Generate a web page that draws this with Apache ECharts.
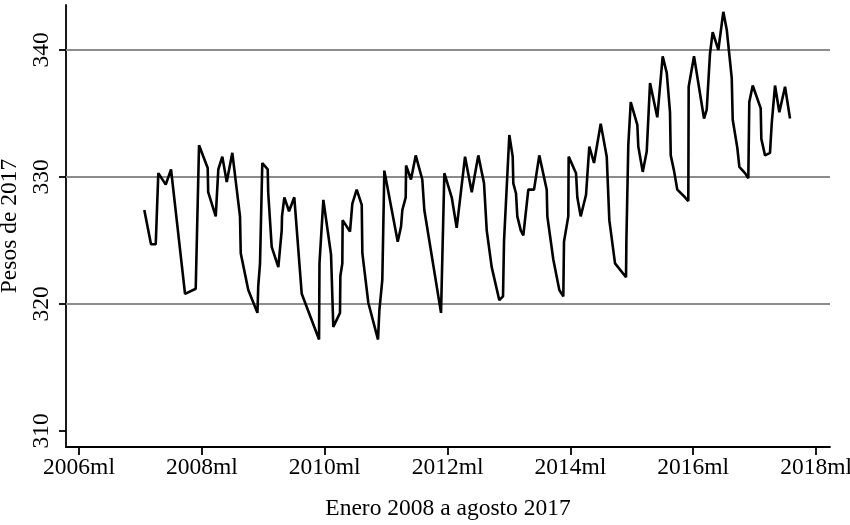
<!DOCTYPE html>
<html><head><meta charset="utf-8">
<script src="https://cdn.jsdelivr.net/npm/echarts@6/dist/echarts.min.js"></script>
<style>html,body{margin:0;padding:0;background:#fff}#c{width:850px;height:525px}</style>
</head><body><div id="c"></div>
<script>
const dates = [2007.063,2007.172,2007.249,2007.291,2007.412,2007.498,2007.726,2007.900,2007.954,
2008.095,2008.103,2008.226,2008.268,2008.333,2008.405,2008.496,2008.621,2008.633,2008.756,2008.905,2008.918,2008.947,2008.984,
2009.072,2009.080,2009.137,2009.245,2009.300,2009.305,2009.343,2009.419,2009.505,2009.626,2009.908,2009.915,2009.978,
2010.103,2010.140,2010.249,2010.255,2010.287,2010.292,2010.412,2010.450,2010.521,2010.603,2010.613,2010.710,2010.868,2010.890,2010.938,2010.971,
2011.189,2011.243,2011.264,2011.319,2011.325,2011.405,2011.482,2011.589,2011.622,2011.894,2011.948,
2012.068,2012.149,2012.285,2012.394,2012.501,2012.594,2012.638,2012.719,2012.843,2012.903,2012.920,
2013.006,2013.061,2013.071,2013.115,2013.136,2013.192,2013.234,2013.315,2013.408,2013.494,2013.615,2013.625,2013.722,2013.820,2013.885,2013.896,2013.966,2013.972,
2014.092,2014.113,2014.168,2014.255,2014.308,2014.385,2014.494,2014.592,2014.634,2014.727,2014.906,2014.912,2014.943,2014.983,
2015.090,2015.106,2015.178,2015.243,2015.297,2015.415,2015.503,2015.569,2015.622,2015.634,2015.687,2015.741,2015.866,2015.920,2015.926,
2016.013,2016.176,2016.220,2016.273,2016.317,2016.409,2016.490,2016.546,2016.627,2016.643,2016.718,2016.751,2016.843,2016.897,2016.913,2016.969,
2017.099,2017.109,2017.169,2017.250,2017.278,2017.332,2017.402,2017.495,2017.576];
const values = [327.4,324.7,324.7,330.3,329.4,330.6,320.8,321.2,332.5,
330.7,328.8,326.9,330.6,331.6,329.6,331.9,326.9,324.0,321.1,319.3,321.4,323.2,331.1,
330.6,328.8,324.5,322.9,325.8,326.9,328.4,327.3,328.4,320.8,317.2,323.2,328.2,
323.9,318.2,319.3,322.2,323.2,326.6,325.7,327.9,329.0,327.8,324.0,320.1,317.2,319.5,321.9,330.5,
324.9,326.1,327.4,328.4,330.9,329.8,331.7,329.8,327.4,319.3,330.3,
328.4,326.0,331.6,328.8,331.7,329.5,325.8,322.9,320.3,320.6,325.0,
333.3,331.6,329.5,328.7,326.9,325.8,325.4,329.0,329.0,331.7,329.0,326.9,323.5,321.1,320.6,324.9,326.9,331.6,
330.3,328.4,326.9,328.6,332.4,331.1,334.2,331.6,326.6,323.2,322.1,325.0,332.5,335.9,
334.1,332.4,330.4,332.0,337.4,334.7,339.5,338.2,335.1,331.7,330.5,329.0,328.4,328.1,337.1,
339.5,334.6,335.3,339.7,341.4,340.0,343.0,341.6,337.8,334.5,332.3,330.8,330.3,329.9,335.9,337.2,
335.4,333.0,331.7,331.9,334.2,337.2,335.1,337.1,334.6];
const xTicks = [2006, 2008, 2010, 2012, 2014, 2016, 2018];
const yTicks = [310, 320, 330, 340];
const gridValues = [320, 330, 340];
const xTitle = 'Enero 2008 a agosto 2017';
const yTitle = 'Pesos de 2017';

const font = 'Liberation Serif';
const fs = 23.5;
const chart = echarts.init(document.getElementById('c'));
chart.setOption({
  animation: false,
  backgroundColor: '#fff',
  grid: { left: 66, right: 20, top: 5, bottom: 78, containLabel: false, outerBoundsMode: 'none' },
  xAxis: {
    type: 'value', min: 2005.788, max: 2018.227,
    name: xTitle, nameLocation: 'middle', nameGap: 50,
    nameTextStyle: { fontFamily: font, fontSize: fs, color: '#000' },
    axisLine: { show: true, lineStyle: { color: '#000', width: 1.8 } },
    axisTick: { show: true, length: 8, customValues: xTicks, lineStyle: { color: '#000', width: 1.8 } },
    axisLabel: { customValues: xTicks, formatter: v => Math.round(v) + 'ml', fontFamily: font, fontSize: fs, color: '#000', margin: 9 },
    splitLine: { show: false }
  },
  yAxis: {
    type: 'value', min: 308.74, max: 343.54,
    name: yTitle, nameLocation: 'middle', nameGap: 42, nameRotate: 90,
    nameTextStyle: { fontFamily: font, fontSize: fs, color: '#000' },
    axisLine: { show: true, lineStyle: { color: '#000', width: 1.8 } },
    axisTick: { show: true, length: 7, customValues: yTicks, lineStyle: { color: '#000', width: 1.8 } },
    axisLabel: { customValues: yTicks, rotate: 90, fontFamily: font, fontSize: fs, color: '#000', margin: 12 },
    splitLine: { show: false }
  },
  series: [{
    type: 'line',
    data: dates.map((d, i) => [d, values[i]]),
    showSymbol: false,
    lineStyle: { color: '#000', width: 2.6 },
    z: 3,
    markLine: {
      silent: true, symbol: 'none', z: 1,
      label: { show: false },
      lineStyle: { color: '#8c8c8c', width: 2, type: 'solid' },
      data: gridValues.map(v => ({ yAxis: v }))
    }
  }]
});
</script>
</body></html>
